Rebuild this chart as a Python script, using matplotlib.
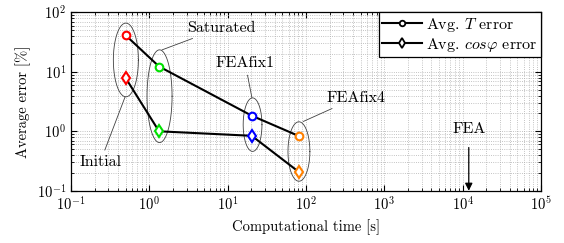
import matplotlib
matplotlib.use("Agg")
import matplotlib.pyplot as plt
import numpy as np

plt.rcParams['font.family'] = 'serif'
plt.rcParams['font.serif'] = ['cmr10']
plt.rcParams['mathtext.fontset'] = 'cm'
plt.rcParams['axes.formatter.use_mathtext'] = True
plt.rcParams['axes.unicode_minus'] = False
plt.rcParams['font.size'] = 10.5

# data
methods = ['Initial', 'Saturated', 'FEAfix1', 'FEAfix4']
comp_time = [0.5, 1.33, 20.3, 81.6]          # [s]
torque_err = [41.0, 12.3, 1.83, 0.83]        # [%]
cosphi_err = [7.8, 1.0, 0.84, 0.206]         # [%]
point_colors = ['#ff0000', '#00e000', '#0000ff', '#ff8000']
fea_time = 1.2e4

# ellipse groups (log10 centre x, log10 centre y, half width, half height in decades)
ellipses = [(-0.30, 1.20, 0.16, 0.62),
            (0.13, 0.59, 0.16, 0.78),
            (1.318, 0.112, 0.12, 0.45),
            (1.91, -0.34, 0.14, 0.50)]
# label positions (text xy, line end xy)
label_pos = [((0.235, 0.30), (0.49, 3.8)),
             ((8.2, 55.0), (1.45, 23.4)),
             ((16.7, 14.2), (20.4, 3.67)),
             ((436.0, 3.67), (92.0, 1.46))]

fig, ax = plt.subplots(figsize=(5.64, 2.43), dpi=100)
fig.subplots_adjust(left=0.126, right=0.959, top=0.949, bottom=0.215)

ax.set_xscale('log')
ax.set_yscale('log')
ax.set_xlim(1e-1, 1e5)
ax.set_ylim(1e-1, 1e2)

ax.grid(True, which='both', color='#b0b0b0', linestyle=':', linewidth=0.6)
ax.set_axisbelow(True)

ax.plot(comp_time, torque_err, color='black', lw=1.5, zorder=3)
ax.plot(comp_time, cosphi_err, color='black', lw=1.5, zorder=3)
for t, te, ce, c in zip(comp_time, torque_err, cosphi_err, point_colors):
    ax.plot(t, te, 'o', ms=5.5, mfc='white', mec=c, mew=1.5, zorder=4)
    ax.plot(t, ce, 'd', ms=6.5, mfc='white', mec=c, mew=1.5, zorder=4)

# ellipses drawn in log space
th = np.linspace(0, 2 * np.pi, 200)
for cx, cy, a, b in ellipses:
    ax.plot(10 ** (cx + a * np.cos(th)), 10 ** (cy + b * np.sin(th)),
            color='#404040', lw=0.6, zorder=2)

for name, (txt, tip) in zip(methods, label_pos):
    ax.annotate(name, xy=tip, xytext=txt, ha='center', va='center', fontsize=11.5,
                arrowprops=dict(arrowstyle='-', color='#404040', lw=0.6,
                                shrinkA=2, shrinkB=0))

ax.annotate('FEA', xy=(fea_time, 0.1), xytext=(fea_time, 1.07),
            ha='center', va='center', fontsize=11.5,
            arrowprops=dict(arrowstyle='-|>', color='black', lw=0.9,
                            mutation_scale=11, shrinkA=6, shrinkB=0))

# legend handles in black
ax.plot([], [], color='black', lw=1.5, marker='o', ms=4, mfc='white',
        mec='black', mew=1.3, label=r'Avg. $T$ error')
ax.plot([], [], color='black', lw=1.5, marker='d', ms=5, mfc='white',
        mec='black', mew=1.3, label=r'Avg. $cos\varphi$ error')
leg = ax.legend(loc='upper right', fancybox=False, framealpha=1, fontsize=11.5,
                edgecolor='black', borderaxespad=0, handlelength=2.5,
                handletextpad=0.25, borderpad=0.2, labelspacing=0.15)
leg.get_frame().set_linewidth(0.9)

ax.set_xlabel('Computational time [s]')
ax.set_ylabel('Average error [%]')

ax.tick_params(which='both', direction='in', top=True, right=True)
ax.tick_params(which='major', length=4)
ax.tick_params(which='minor', length=2)
for s in ax.spines.values():
    s.set_linewidth(0.9)

fig.savefig('out.png', dpi=100)
